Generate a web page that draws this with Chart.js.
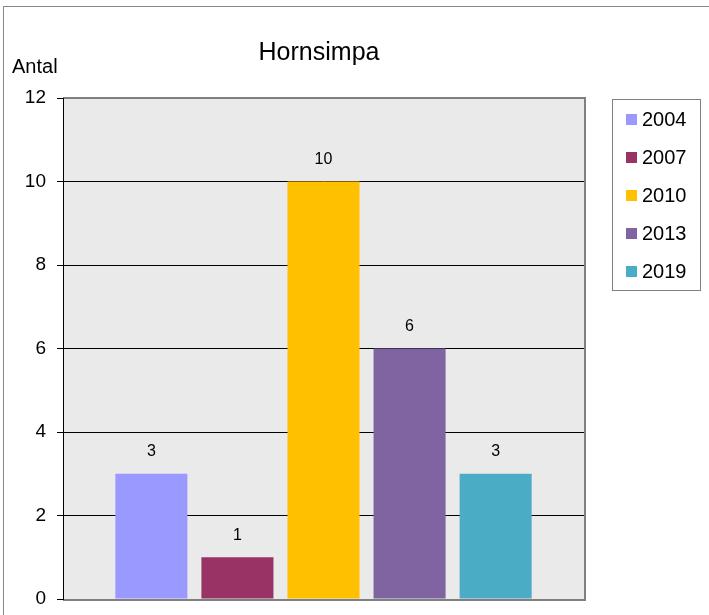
<!DOCTYPE html>
<html>
<head>
<meta charset="utf-8">
<script src="https://cdn.jsdelivr.net/npm/chart.js@4/dist/chart.umd.min.js"></script>
<style>
    html, body { margin: 0; padding: 0; background: #fff; }
    #wrap { width: 709px; height: 615px; position: relative; }
</style>
</head>
<body>
<div id="wrap"><canvas id="fishChart" width="709" height="615"></canvas></div>
<script>
const years = ["2004", "2007", "2010", "2013", "2019"]
const counts = [3, 1, 10, 6, 3]
const barColors = ["#9999FF", "#993366", "#FFC000", "#8064A2", "#4BACC6"]
const yTicks = [0, 2, 4, 6, 8, 10, 12]

const FONT = "'Liberation Sans', Arial, sans-serif"

// frame, plot background, title and axis name
const backdrop = {
    id: "backdrop",
    beforeDraw(chart) {
        const ctx = chart.ctx
        const a = chart.chartArea
        ctx.save()
        ctx.fillStyle = "#fff"
        ctx.fillRect(0, 0, chart.width, chart.height)
        ctx.strokeStyle = "#888"
        ctx.lineWidth = 1
        ctx.strokeRect(3.5, 6.5, chart.width, chart.height)
        ctx.fillStyle = "#EAEAEA"
        ctx.fillRect(a.left, a.top, a.right - a.left, a.bottom - a.top)
        ctx.fillStyle = "#000"
        ctx.font = "25px " + FONT
        ctx.textAlign = "center"
        ctx.textBaseline = "middle"
        ctx.fillText("Hornsimpa", 319, 53)
        ctx.font = "20px " + FONT
        ctx.textAlign = "left"
        ctx.fillText("Antal", 12, 67)
        ctx.restore()
    },
    afterDatasetsDraw(chart) {
        const ctx = chart.ctx
        const a = chart.chartArea
        ctx.save()
        // plot border on top and right
        ctx.strokeStyle = "#808080"
        ctx.lineWidth = 2
        ctx.beginPath()
        ctx.moveTo(a.left, a.top)
        ctx.lineTo(a.right + 1, a.top)
        ctx.lineTo(a.right + 1, a.bottom + 1)
        ctx.lineTo(a.left, a.bottom + 1)
        ctx.stroke()
        ctx.strokeStyle = "#000"
        ctx.lineWidth = 1
        ctx.beginPath()
        ctx.moveTo(a.left + 0.5, a.top)
        ctx.lineTo(a.left + 0.5, a.bottom + 1)
        ctx.stroke()

        // value labels above the bars
        ctx.fillStyle = "#000"
        ctx.font = "16px " + FONT
        ctx.textAlign = "center"
        ctx.textBaseline = "middle"
        chart.data.datasets.forEach((ds, i) => {
            const bar = chart.getDatasetMeta(i).data[0]
            ctx.fillText(String(ds.data[0]), bar.x, bar.y - 22)
        })

        // legend box
        const lx = 612, ly = 99, lw = 88, lh = 191
        ctx.strokeStyle = "#808080"
        ctx.lineWidth = 1
        ctx.strokeRect(lx + 0.5, ly + 0.5, lw, lh)
        ctx.font = "20px " + FONT
        ctx.textAlign = "left"
        chart.data.datasets.forEach((ds, i) => {
            const cy = 119 + i * 38
            ctx.fillStyle = ds.backgroundColor
            ctx.fillRect(626, cy - 5, 11, 11)
            ctx.fillStyle = "#000"
            ctx.fillText(ds.label, 642, cy + 1)
        })
        ctx.restore()
    }
}

new Chart(document.getElementById("fishChart").getContext("2d"), {
    type: "bar",
    data: {
        labels: [""],
        datasets: years.map((y, i) => ({
            label: y,
            data: [counts[i]],
            backgroundColor: barColors[i],
            borderWidth: 0,
            categoryPercentage: 0.826,
            barPercentage: 0.837
        }))
    },
    options: {
        responsive: false,
        animation: false,
        events: [],
        layout: { padding: { left: 0, right: 125, top: 98, bottom: 16 } },
        plugins: {
            legend: { display: false },
            title: { display: false },
            tooltip: { enabled: false }
        },
        scales: {
            x: {
                ticks: { display: false },
                grid: { display: false, drawTicks: false },
                border: { display: false }
            },
            y: {
                min: 0,
                max: 12,
                afterFit(scale) {
                    scale.width = 63
                    scale.paddingTop = 0
                    scale.paddingBottom = 0
                },
                afterBuildTicks(scale) { scale.ticks = yTicks.map(v => ({ value: v })) },
                ticks: {
                    color: "#000",
                    padding: 11,
                    font: { family: FONT, size: 19 }
                },
                grid: {
                    color: ctx => (ctx.tick && (ctx.tick.value === 0 || ctx.tick.value === 12)) ? "rgba(0,0,0,0)" : "#000",
                    tickColor: "#000",
                    tickLength: 6,
                    lineWidth: 1
                },
                border: { display: false }
            }
        }
    },
    plugins: [backdrop]
})
</script>
</body>
</html>
